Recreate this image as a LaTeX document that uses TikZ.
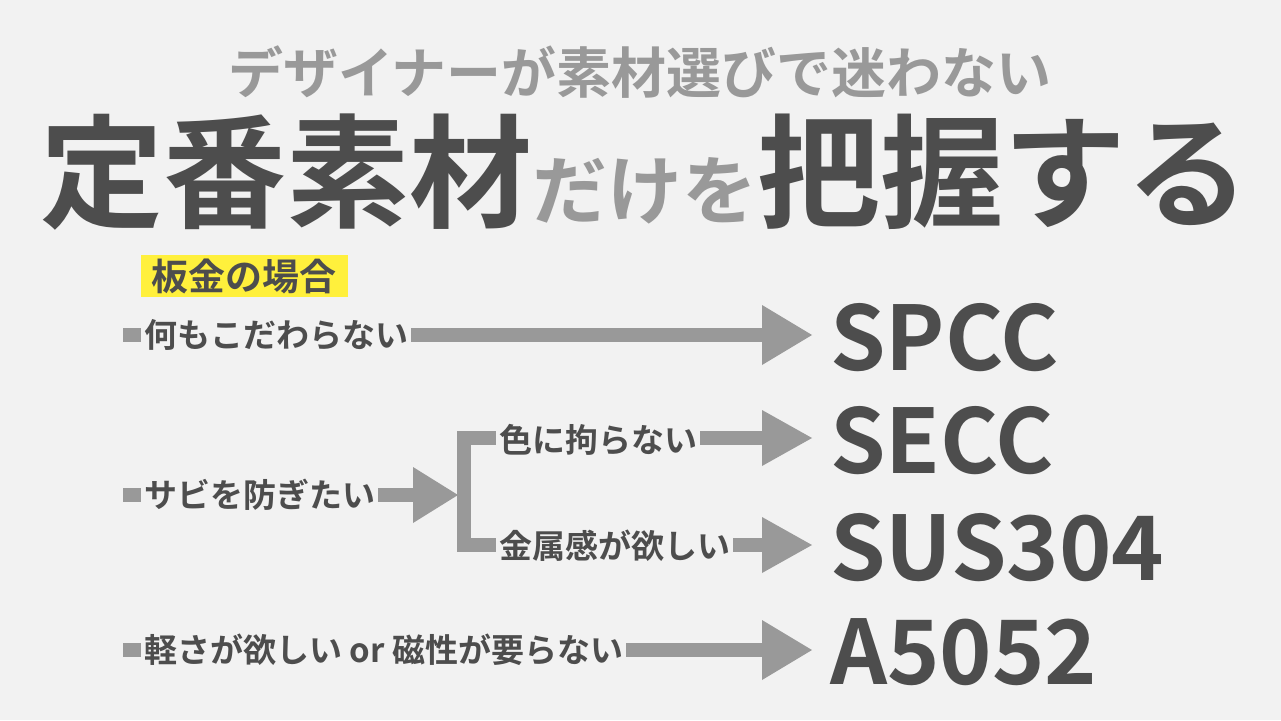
\documentclass[tikz,border=0pt]{standalone}
\usepackage{fontspec}
\setmainfont{Noto Sans CJK JP Bold}
\begin{document}
\begin{tikzpicture}[x=1pt,y=-1pt]
\definecolor{bg}{HTML}{F2F2F2}\definecolor{dk}{HTML}{4D4D4D}\definecolor{gr}{HTML}{999999}\definecolor{yl}{HTML}{FFF03C}
\tikzset{ln/.style={draw=gr,line width=14pt},
 hd/.style={fill=gr,draw=none},
 lab/.style={fill=bg,text=dk,font=\fontsize{33}{34}\selectfont,inner xsep=3pt,inner ysep=1pt,anchor=west},
 res/.style={text=dk,font=\fontsize{89}{90}\selectfont,anchor=west,inner sep=0pt}}
\fill[bg] (0,0) rectangle (1281,720);
\node[text=gr,font=\fontsize{55}{57}\selectfont] (t1) at (640,72) {デザイナーが素材選びで迷わない};
\node[text=dk,anchor=base west,inner sep=0pt] (t2) at (40,218) {\fontsize{123}{125}\selectfont 定番素材\textcolor{gr}{\fontsize{75}{77}\selectfont だけを}把握する};
\node[fill=yl,text=dk,font=\fontsize{37}{38}\selectfont,minimum height=42pt,inner xsep=11pt,inner ysep=0pt] (hl) at (244,276) {板金の場合};
% row1
\coordinate (a1) at (123,335); \coordinate (e1) at (765,335);
\draw[ln] (a1) -- (e1);
\fill[hd] (762,305) -- (812,335) -- (762,365) -- cycle;
\node[lab] (l1) at (141,335) {何もこだわらない};
% row2
\coordinate (a2) at (123,495); \coordinate (e2) at (420,495);
\draw[ln] (a2) -- (e2);
\fill[hd] (413,467) -- (458,495) -- (413,523) -- cycle;
\draw[ln,line cap=butt] (765,438) -- (464,438) -- (464,545) -- (765,545);
\fill[hd] (762,410) -- (812,438) -- (762,466) -- cycle;
\fill[hd] (762,517) -- (812,545) -- (762,573) -- cycle;
\node[lab] (l2) at (141,495) {サビを防ぎたい};
\node[lab] (l3) at (496,440) {色に拘らない};
\node[lab] (l4) at (496,546) {金属感が欲しい};
% row4
\coordinate (a4) at (123,650); \coordinate (e4) at (765,650);
\draw[ln] (a4) -- (e4);
\fill[hd] (762,620) -- (812,650) -- (762,680) -- cycle;
\node[lab] (l5) at (141,650) {軽さが欲しい or 磁性が要らない};
% results
\node[res] (r1) at (830,338) {SPCC};
\node[res] (r2) at (830,441) {SECC};
\node[res] (r3) at (830,548) {SUS304};
\node[res] (r4) at (830,652) {A5052};
\end{tikzpicture}
\end{document}
